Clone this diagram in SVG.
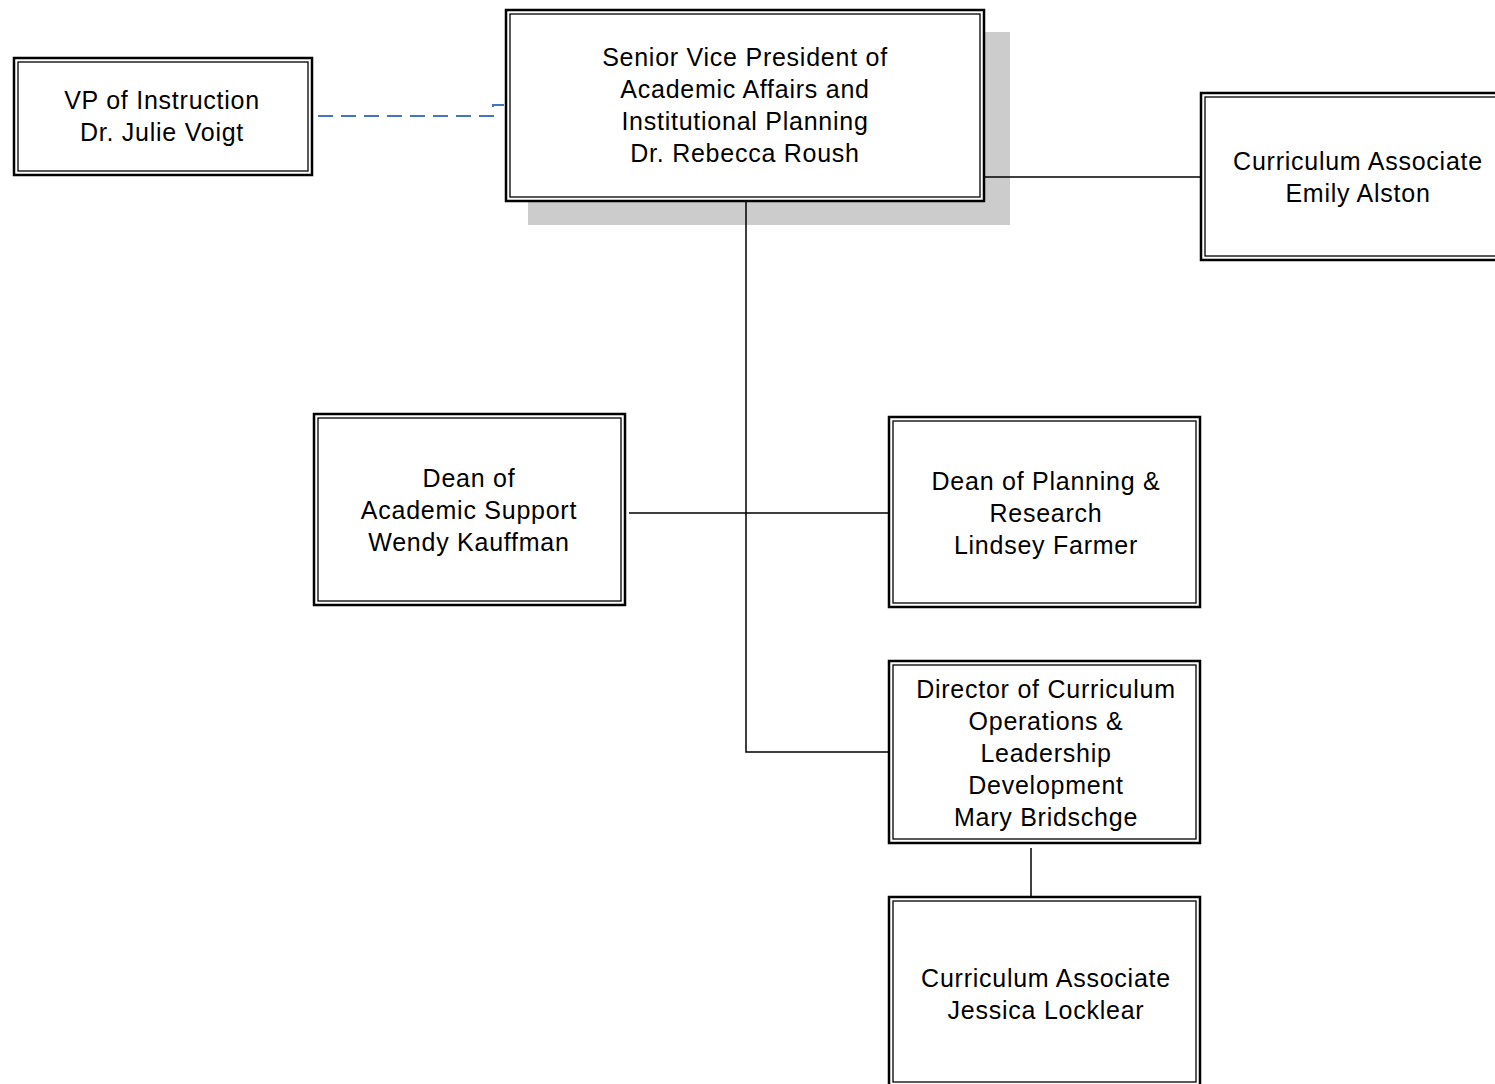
<svg xmlns="http://www.w3.org/2000/svg" width="1495" height="1084" viewBox="0 0 1495 1084">
<style>
.o{fill:#fff;stroke:#000;stroke-width:2.5}
.i{fill:none;stroke:#000;stroke-width:1.3}
.t{font-family:"Liberation Sans",Arial,sans-serif;font-size:25px;letter-spacing:0.75px;fill:#000;text-anchor:middle}
.c{fill:none;stroke:#000;stroke-width:1.5}
</style>
<rect x="0" y="0" width="1495" height="1084" fill="#fff"/>
<g id="svp">
<rect x="528" y="32" width="482" height="193" fill="#cccccc"/>
<rect class="o" x="506" y="10" width="478" height="191"/>
<rect class="i" x="510" y="14" width="470" height="183"/>
<text class="t" x="745" y="66">Senior Vice President of</text>
<text class="t" x="745" y="98">Academic Affairs and</text>
<text class="t" x="745" y="130">Institutional Planning</text>
<text class="t" x="745" y="162">Dr. Rebecca Roush</text>
</g>
<g id="connectors">
<path class="c" d="M746,202 V752 H889"/>
<path class="c" d="M629,513 H889"/>
<path class="c" d="M985,177 H1201"/>
<path class="c" d="M1031,848 V898"/>
<path d="M318,116 H493 V105 H504" fill="none" stroke="#4472c4" stroke-width="2" stroke-dasharray="15,8"/>
</g>
<g id="vp">
<rect class="o" x="14" y="58" width="298" height="117"/>
<rect class="i" x="18" y="62" width="290" height="109"/>
<text class="t" x="162" y="109">VP of Instruction</text>
<text class="t" x="162" y="141">Dr. Julie Voigt</text>
</g>
<g id="emily">
<rect class="o" x="1201" y="93" width="310" height="167"/>
<rect class="i" x="1205" y="97" width="302" height="159"/>
<text class="t" x="1358" y="170">Curriculum Associate</text>
<text class="t" x="1358" y="202">Emily Alston</text>
</g>
<g id="wendy">
<rect class="o" x="314" y="414" width="311" height="191"/>
<rect class="i" x="318" y="418" width="303" height="183"/>
<text class="t" x="469" y="487">Dean of</text>
<text class="t" x="469" y="519">Academic Support</text>
<text class="t" x="469" y="551">Wendy Kauffman</text>
</g>
<g id="lindsey">
<rect class="o" x="889" y="417" width="311" height="190"/>
<rect class="i" x="893" y="421" width="303" height="182"/>
<text class="t" x="1046" y="490">Dean of Planning &amp;</text>
<text class="t" x="1046" y="522">Research</text>
<text class="t" x="1046" y="554">Lindsey Farmer</text>
</g>
<g id="mary">
<rect class="o" x="889" y="661" width="311" height="182"/>
<rect class="i" x="893" y="665" width="303" height="174"/>
<text class="t" x="1046" y="698">Director of Curriculum</text>
<text class="t" x="1046" y="730">Operations &amp;</text>
<text class="t" x="1046" y="762">Leadership</text>
<text class="t" x="1046" y="794">Development</text>
<text class="t" x="1046" y="826">Mary Bridschge</text>
</g>
<g id="jessica">
<rect class="o" x="889" y="897" width="311" height="190"/>
<rect class="i" x="893" y="901" width="303" height="181"/>
<text class="t" x="1046" y="987">Curriculum Associate</text>
<text class="t" x="1046" y="1019">Jessica Locklear</text>
</g>
</svg>
